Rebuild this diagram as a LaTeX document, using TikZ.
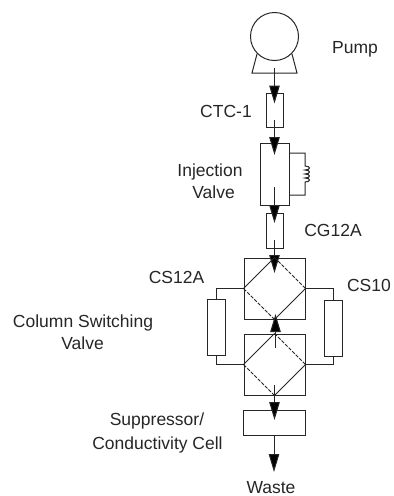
\documentclass[tikz,border=0pt]{standalone}
\usepackage{fontspec}
\setmainfont{Liberation Sans}
\usetikzlibrary{arrows.meta}
\begin{document}
\begin{tikzpicture}[x=1pt,y=-1pt,
  ln/.style={line width=1pt,black!85},
  dsh/.style={ln,dash pattern=on 3.5pt off 1.5pt},
  flow/.style={ln,-{Triangle[length=18pt,width=10.5pt,fill=black]}},
  box/.style={draw=black!85,line width=1pt,fill=none,inner sep=0,minimum width=#1},
  lbl/.style={font=\fontsize{17.5}{17.5}\selectfont,inner sep=0,text=black!85,anchor=base}]
\useasboundingbox (0,0) rectangle (394,496);
% pump
\node[draw=black!85,line width=1pt,circle,minimum size=48pt,inner sep=0] (pump) at (274.5,36.5) {};
\draw[ln] (257,54) -- (252,73) -- (297,73) -- (292,54);
\coordinate (pumpout) at (274.5,68);
% boxes
\node[box=17pt,minimum height=34pt] (ctc) at (274.5,110) {};
\node[box=29pt,minimum height=62pt] (inj) at (274.5,174) {};
\node[box=17pt,minimum height=35pt] (cg) at (274.5,230.5) {};
\node[box=61pt,minimum height=61pt] (up) at (274.5,288.5) {};
\node[box=61pt,minimum height=61pt] (lo) at (274.5,364.5) {};
\node[box=18pt,minimum height=56pt] (csa) at (216,327) {};
\node[box=18pt,minimum height=56pt] (csb) at (333,328) {};
\node[box=62pt,minimum height=25pt] (sup) at (274,422.5) {};
% flow arrows
\coordinate (a1) at (274.5,103.5);
\coordinate (a2s) at (274.5,120);
\coordinate (a2) at (274.5,155);
\coordinate (a3s) at (274.5,187);
\coordinate (a3) at (274.5,223);
\coordinate (a4s) at (274.5,240);
\coordinate (a4) at (274.5,273);
\coordinate (a5s) at (275.5,348);
\coordinate (a5) at (275.5,314);
\coordinate (a6s) at (274.5,385);
\coordinate (a6) at (274.5,420);
\coordinate (a7) at (274,472);
\draw[flow] (pumpout) -- (a1);
\draw[flow] (a2s) -- (a2);
\draw[flow] (a3s) -- (a3);
\draw[flow] (a4s) -- (a4);
\draw[flow] (a5s) -- (a5);
\draw[flow] (a6s) -- (a6);
\draw[flow] (sup.south) -- (a7);
% diamonds
\draw[ln] (up.west) -- (up.north);
\draw[dsh] (up.north) -- (up.east);
\draw[ln] (up.east) -- (up.south);
\draw[dsh] (up.south) -- (up.west);
\draw[ln] (lo.west) -- (lo.north);
\draw[dsh] (lo.north) -- (lo.east);
\draw[ln] (lo.east) -- (lo.south);
\draw[dsh] (lo.south) -- (lo.west);
% columns
\draw[ln] (up.west) -| (csa.north);
\draw[ln] (lo.west) -| (csa.south);
\draw[ln] (up.east) -| (csb.north);
\draw[ln] (lo.east) -| (csb.south);
% injection loop
\coordinate (l1) at (289,153);
\coordinate (l2) at (305,153);
\coordinate (l3) at (305,195);
\coordinate (l4) at (289,195);
\draw[ln] (l1) -- (l2) -- (305,166)
  .. controls (311,166) and (311,170) .. (305,170)
  .. controls (311,170) and (311,174) .. (305,174)
  .. controls (311,174) and (311,178) .. (305,178)
  .. controls (311,178) and (311,182) .. (305,182)
  -- (l3) -- (l4);
% labels
\node[lbl] (t1) at (355,53) {Pump};
\node[lbl] (t2) at (226,117) {CTC-1};
\node[lbl] (t3) at (210,176) {Injection};
\node[lbl] (t4) at (213.5,198) {Valve};
\node[lbl] (t5) at (333,236) {CG12A};
\node[lbl] (t6) at (176.5,283) {CS12A};
\node[lbl] (t7) at (369,291) {CS10};
\node[lbl] (t8) at (83,327) {Column Switching};
\node[lbl] (t9) at (82.5,349) {Valve};
\node[lbl] (t10) at (157,425) {Suppressor/};
\node[lbl] (t11) at (157.5,449) {Conductivity Cell};
\node[lbl] (t12) at (271,493) {Waste};
\end{tikzpicture}
\end{document}
